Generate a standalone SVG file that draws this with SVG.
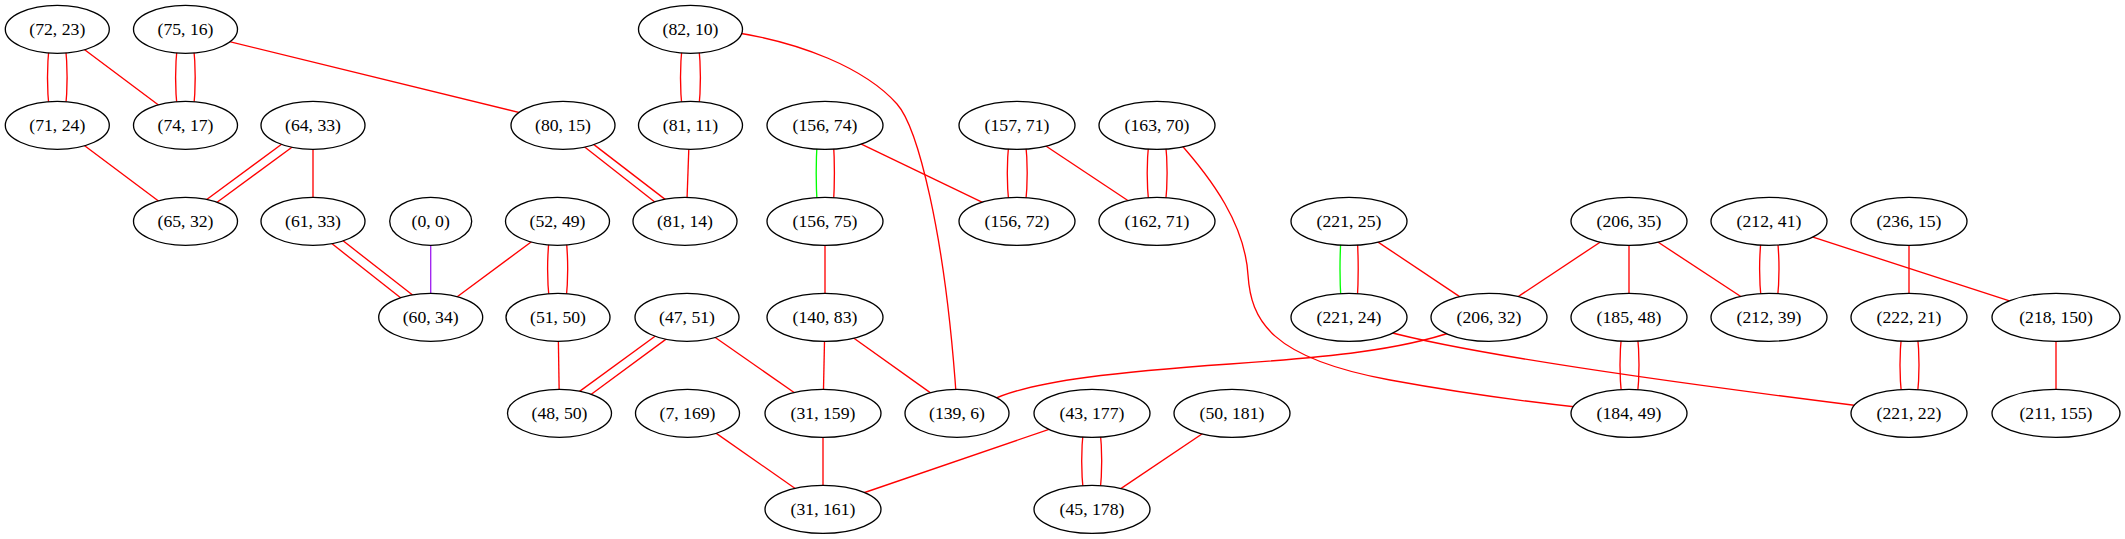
<svg xmlns="http://www.w3.org/2000/svg" width="2125" height="539" viewBox="0 0 2125 539">
<style>
.n ellipse{fill:#ffffff;stroke:#000000;stroke-width:1.33}
.n text{font-family:"Liberation Serif","Times New Roman",serif;font-size:17.7px;text-anchor:middle;fill:#000000}
.e path,.e line{fill:none;stroke:#ff0000;stroke-width:1.33}
.e .g{stroke:#00ff00}
.e .p{stroke:#a020f0}
</style>
<rect x="0" y="0" width="2125" height="539" fill="#ffffff"/>
<g id="edges" class="e">
<!-- row1-row2 -->
<path d="M49.2,45 Q45.8,77.5 49.2,110"/>
<path d="M65.4,45 Q68.8,77.5 65.4,110"/>
<line x1="57.3" y1="29.3" x2="185.5" y2="125.3"/>
<path d="M177.3,45 Q173.9,77.5 177.3,110"/>
<path d="M193.5,45 Q196.9,77.5 193.5,110"/>
<line x1="201" y1="34.6" x2="549" y2="119.8"/>
<path d="M682.2,45 Q678.8,77.5 682.2,110"/>
<path d="M698.7,45 Q702.1,77.5 698.7,110"/>
<path d="M732,32 C800,42 865,68 897,104 C917,126.5 945,230 956.5,400"/>
<!-- row2-row3 -->
<line x1="57.3" y1="125.3" x2="185.5" y2="221.3"/>
<line x1="287" y1="140.3" x2="199.6" y2="204.7"/>
<line x1="299.1" y1="142" x2="212.3" y2="205.7"/>
<line x1="313" y1="125.3" x2="313" y2="221.3"/>
<line x1="576.7" y1="140.8" x2="659.9" y2="205.9"/>
<line x1="587.1" y1="139.4" x2="671" y2="203.9"/>
<line x1="689.3" y1="135" x2="686.6" y2="211"/>
<path class="g" d="M817.2,141 Q815.2,173 817.2,205"/>
<path d="M833.4,141 Q835.4,173 833.4,205"/>
<line x1="852" y1="139.7" x2="990.8" y2="206.3"/>
<path d="M1009,141 Q1005.6,173 1009,205"/>
<path d="M1025.5,141 Q1028.9,173 1025.5,205"/>
<line x1="1037.2" y1="140.2" x2="1136.5" y2="206.2"/>
<path d="M1148.9,141 Q1145.5,173 1148.9,205"/>
<path d="M1165.4,141 Q1168.8,173 1165.4,205"/>
<path d="M1177,140 C1213,180 1245,225 1248,275 C1251,320 1270,358 1390,380 C1450,391 1520,401 1585,408"/>
<!-- row3-row4 -->
<line x1="328" y1="240.6" x2="404.7" y2="301"/>
<line x1="338.6" y1="237.3" x2="416.4" y2="298"/>
<line class="p" x1="430.7" y1="221.3" x2="430.7" y2="317.3"/>
<line x1="535.5" y1="238.7" x2="452.5" y2="300.3"/>
<path d="M549.3,237 Q545.9,269 549.3,301"/>
<path d="M566,237 Q569.4,269 566,301"/>
<line x1="825" y1="221.3" x2="825" y2="317.3"/>
<path class="g" d="M1341,237 Q1339,269 1341,301"/>
<path d="M1357.2,237 Q1359.2,269 1357.2,301"/>
<line x1="1370.6" y1="237.1" x2="1467.1" y2="301.6"/>
<line x1="1607.6" y1="237.2" x2="1510.7" y2="301.5"/>
<line x1="1629" y1="221.3" x2="1629" y2="317.3"/>
<line x1="1649.9" y1="236.8" x2="1748.4" y2="301.5"/>
<path d="M1761.3,237 Q1757.9,269 1761.3,301"/>
<path d="M1777.3,237 Q1780.7,269 1777.3,301"/>
<line x1="1803.8" y1="234.2" x2="2019.5" y2="304.1"/>
<line x1="1909" y1="221.3" x2="1909" y2="317.3"/>
<!-- row4-row5 -->
<line x1="558" y1="317.3" x2="559.5" y2="413.3"/>
<line x1="661.9" y1="331.3" x2="574.1" y2="395.4"/>
<line x1="672.2" y1="334.6" x2="585.2" y2="398.7"/>
<line x1="707.4" y1="332" x2="802" y2="398"/>
<line x1="825" y1="317.3" x2="823" y2="413.3"/>
<line x1="845.9" y1="332.5" x2="937.9" y2="398.1"/>
<path d="M1455,331 C1400,350 1330,357 1230,364 C1130,371 1030,380 990,401"/>
<path d="M1385,331 C1480,357 1700,386 1860,406"/>
<path d="M1621.7,333 Q1618.3,365 1621.7,397"/>
<path d="M1637.3,333 Q1640.7,365 1637.3,397"/>
<path d="M1901.7,333 Q1898.3,365 1901.7,397"/>
<path d="M1917.3,333 Q1920.7,365 1917.3,397"/>
<line x1="2056" y1="317.3" x2="2056" y2="413.3"/>
<!-- row5-row6 -->
<line x1="708.1" y1="427.6" x2="803" y2="494"/>
<line x1="823" y1="413.3" x2="823" y2="509.3"/>
<line x1="1058.5" y1="426.1" x2="855.9" y2="495.5"/>
<path d="M1083.4,429 Q1080,461 1083.4,493"/>
<path d="M1100,429 Q1103.4,461 1100,493"/>
<line x1="1211.2" y1="427.7" x2="1113" y2="493.9"/>
</g>
<g id="n72_23" class="n"><ellipse cx="57.3" cy="29.3" rx="52" ry="24"/><text x="57.3" y="34.8">(72, 23)</text></g>
<g id="n75_16" class="n"><ellipse cx="185.5" cy="29.3" rx="52" ry="24"/><text x="185.5" y="34.8">(75, 16)</text></g>
<g id="n82_10" class="n"><ellipse cx="690.5" cy="29.3" rx="52" ry="24"/><text x="690.5" y="34.8">(82, 10)</text></g>
<g id="n71_24" class="n"><ellipse cx="57.3" cy="125.3" rx="52" ry="24"/><text x="57.3" y="130.8">(71, 24)</text></g>
<g id="n74_17" class="n"><ellipse cx="185.5" cy="125.3" rx="52" ry="24"/><text x="185.5" y="130.8">(74, 17)</text></g>
<g id="n64_33" class="n"><ellipse cx="313" cy="125.3" rx="52" ry="24"/><text x="313" y="130.8">(64, 33)</text></g>
<g id="n80_15" class="n"><ellipse cx="563" cy="125.3" rx="52" ry="24"/><text x="563" y="130.8">(80, 15)</text></g>
<g id="n81_11" class="n"><ellipse cx="690.5" cy="125.3" rx="52" ry="24"/><text x="690.5" y="130.8">(81, 11)</text></g>
<g id="n156_74" class="n"><ellipse cx="825" cy="125.3" rx="58" ry="24"/><text x="825" y="130.8">(156, 74)</text></g>
<g id="n157_71" class="n"><ellipse cx="1017" cy="125.3" rx="58" ry="24"/><text x="1017" y="130.8">(157, 71)</text></g>
<g id="n163_70" class="n"><ellipse cx="1157" cy="125.3" rx="58" ry="24"/><text x="1157" y="130.8">(163, 70)</text></g>
<g id="n65_32" class="n"><ellipse cx="185.5" cy="221.3" rx="52" ry="24"/><text x="185.5" y="226.8">(65, 32)</text></g>
<g id="n61_33" class="n"><ellipse cx="313" cy="221.3" rx="52" ry="24"/><text x="313" y="226.8">(61, 33)</text></g>
<g id="n0_0" class="n"><ellipse cx="430.7" cy="221.3" rx="41" ry="24"/><text x="430.7" y="226.8">(0, 0)</text></g>
<g id="n52_49" class="n"><ellipse cx="557.5" cy="221.3" rx="52" ry="24"/><text x="557.5" y="226.8">(52, 49)</text></g>
<g id="n81_14" class="n"><ellipse cx="685" cy="221.3" rx="52" ry="24"/><text x="685" y="226.8">(81, 14)</text></g>
<g id="n156_75" class="n"><ellipse cx="825" cy="221.3" rx="58" ry="24"/><text x="825" y="226.8">(156, 75)</text></g>
<g id="n156_72" class="n"><ellipse cx="1017" cy="221.3" rx="58" ry="24"/><text x="1017" y="226.8">(156, 72)</text></g>
<g id="n162_71" class="n"><ellipse cx="1157" cy="221.3" rx="58" ry="24"/><text x="1157" y="226.8">(162, 71)</text></g>
<g id="n221_25" class="n"><ellipse cx="1349" cy="221.3" rx="58" ry="24"/><text x="1349" y="226.8">(221, 25)</text></g>
<g id="n206_35" class="n"><ellipse cx="1629" cy="221.3" rx="58" ry="24"/><text x="1629" y="226.8">(206, 35)</text></g>
<g id="n212_41" class="n"><ellipse cx="1769" cy="221.3" rx="58" ry="24"/><text x="1769" y="226.8">(212, 41)</text></g>
<g id="n236_15" class="n"><ellipse cx="1909" cy="221.3" rx="58" ry="24"/><text x="1909" y="226.8">(236, 15)</text></g>
<g id="n60_34" class="n"><ellipse cx="430.7" cy="317.3" rx="52" ry="24"/><text x="430.7" y="322.8">(60, 34)</text></g>
<g id="n51_50" class="n"><ellipse cx="558" cy="317.3" rx="52" ry="24"/><text x="558" y="322.8">(51, 50)</text></g>
<g id="n47_51" class="n"><ellipse cx="687" cy="317.3" rx="52" ry="24"/><text x="687" y="322.8">(47, 51)</text></g>
<g id="n140_83" class="n"><ellipse cx="825" cy="317.3" rx="58" ry="24"/><text x="825" y="322.8">(140, 83)</text></g>
<g id="n221_24" class="n"><ellipse cx="1349" cy="317.3" rx="58" ry="24"/><text x="1349" y="322.8">(221, 24)</text></g>
<g id="n206_32" class="n"><ellipse cx="1489" cy="317.3" rx="58" ry="24"/><text x="1489" y="322.8">(206, 32)</text></g>
<g id="n185_48" class="n"><ellipse cx="1629" cy="317.3" rx="58" ry="24"/><text x="1629" y="322.8">(185, 48)</text></g>
<g id="n212_39" class="n"><ellipse cx="1769" cy="317.3" rx="58" ry="24"/><text x="1769" y="322.8">(212, 39)</text></g>
<g id="n222_21" class="n"><ellipse cx="1909" cy="317.3" rx="58" ry="24"/><text x="1909" y="322.8">(222, 21)</text></g>
<g id="n218_150" class="n"><ellipse cx="2056" cy="317.3" rx="64" ry="24"/><text x="2056" y="322.8">(218, 150)</text></g>
<g id="n48_50" class="n"><ellipse cx="559.5" cy="413.3" rx="52" ry="24"/><text x="559.5" y="418.8">(48, 50)</text></g>
<g id="n7_169" class="n"><ellipse cx="687.5" cy="413.3" rx="52" ry="24"/><text x="687.5" y="418.8">(7, 169)</text></g>
<g id="n31_159" class="n"><ellipse cx="823" cy="413.3" rx="58" ry="24"/><text x="823" y="418.8">(31, 159)</text></g>
<g id="n139_6" class="n"><ellipse cx="957" cy="413.3" rx="52" ry="24"/><text x="957" y="418.8">(139, 6)</text></g>
<g id="n43_177" class="n"><ellipse cx="1092" cy="413.3" rx="58" ry="24"/><text x="1092" y="418.8">(43, 177)</text></g>
<g id="n50_181" class="n"><ellipse cx="1232" cy="413.3" rx="58" ry="24"/><text x="1232" y="418.8">(50, 181)</text></g>
<g id="n184_49" class="n"><ellipse cx="1629" cy="413.3" rx="58" ry="24"/><text x="1629" y="418.8">(184, 49)</text></g>
<g id="n221_22" class="n"><ellipse cx="1909" cy="413.3" rx="58" ry="24"/><text x="1909" y="418.8">(221, 22)</text></g>
<g id="n211_155" class="n"><ellipse cx="2056" cy="413.3" rx="64" ry="24"/><text x="2056" y="418.8">(211, 155)</text></g>
<g id="n31_161" class="n"><ellipse cx="823" cy="509.3" rx="58" ry="24"/><text x="823" y="514.8">(31, 161)</text></g>
<g id="n45_178" class="n"><ellipse cx="1092" cy="509.3" rx="58" ry="24"/><text x="1092" y="514.8">(45, 178)</text></g>
</svg>
